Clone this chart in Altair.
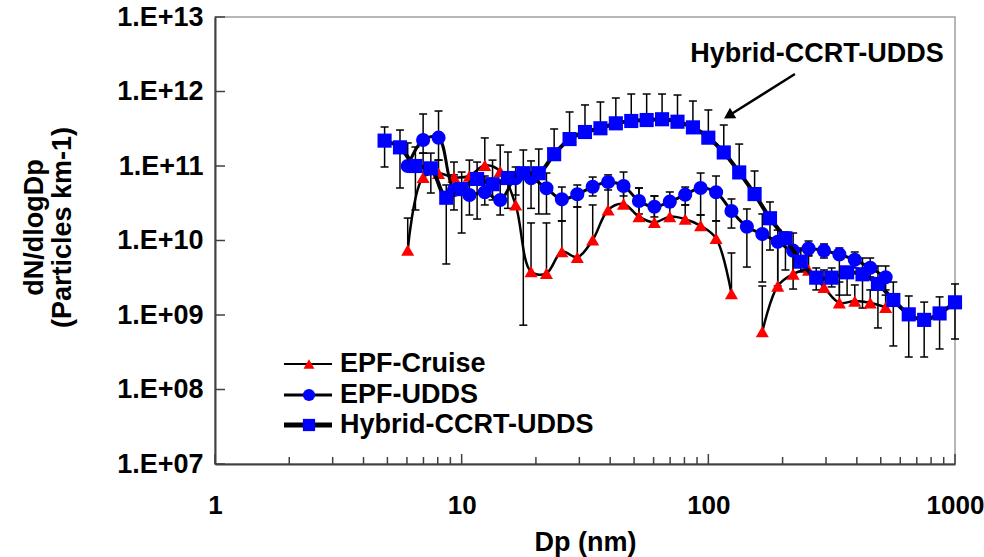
import altair as alt
import pandas as pd

# ---------------- data ----------------
hyb_dp = [4.870, 5.623, 6.494, 7.499, 8.660, 10.00, 11.55, 13.34, 15.40, 17.78,
          20.54, 23.71, 27.38, 31.62, 36.52, 42.17, 48.70, 56.23, 64.94, 74.99,
          86.60, 100.0, 115.5, 133.4, 154.0, 177.8, 205.4, 237.1, 273.8, 316.2,
          365.2, 421.7, 487.0, 562.3, 649.4, 749.9, 866.0, 1000.0]
hyb_val = [2.19e11, 1.78e11, 1.0e11, 9.3e10, 3.75e10, 4.9e10, 6.7e10, 5.7e10, 6.9e10, 8.0e10,
           8.0e10, 1.44e11, 2.30e11, 2.86e11, 3.21e11, 3.74e11, 4.02e11, 4.14e11, 4.24e11, 3.93e11,
           3.30e11, 2.40e11, 1.52e11, 8.2e10, 4.2e10, 1.99e10, 1.07e10, 5.2e9, 3.17e9, 3.17e9,
           3.74e9, 3.52e9, 2.61e9, 1.59e9, 1.02e9, 8.6e8, 1.05e9, 1.48e9]
hyb_hi = [3.34e11, 3.04e11, 1.80e11, 1.49e11, 5.56e10, 8.3e10, 1.13e11, 1.2e11, 1.54e11, 1.64e11,
          1.69e11, 3.14e11, 5.31e11, 6.6e11, 7.23e11, 8.18e11, 9.25e11, 9.25e11, 9.25e11, 8.97e11,
          7.45e11, 5.65e11, 3.55e11, 1.97e11, 8.57e10, 3.29e10, 1.30e10, 7.93e9, 4.28e9, 4.28e9,
          4.41e9, 5.82e9, 4.55e9, 2.77e9, 1.80e9, 1.49e9, 1.75e9, 2.61e9]
hyb_lo = [9.7e10, 5.07e10, 2.57e10, 4.34e10, 4.84e9, 1.26e10, 1.94e10, 3.5e10, 2.7e10, 7.3e8,
          2.27e10, None, None, None, None, None, None, None, None, None,
          None, None, None, None, None, 7.45e9, 4.02e9, 3.78e9, 2.17e9, 2.38e9,
          1.85e9, 1.24e9, 6.7e8, 3.84e8, 2.73e8, 2.73e8, 3.5e8, 4.76e8]

epf_dp = [6.043, 6.978, 8.058, 9.306, 10.75, 12.41, 14.33, 16.55, 19.11, 22.07,
          25.48, 29.43, 33.98, 39.24, 45.32, 52.33, 60.43, 69.78, 80.58, 93.06,
          107.5, 124.1, 143.3, 165.5, 191.1, 220.7, 254.8, 294.3, 339.8, 392.4,
          453.2, 523.3]

udds_val = [1.0e11, 2.23e11, 2.40e11, 4.76e10, 4.08e10, 4.44e10, 3.50e10, 6.84e10, 6.84e10, 5.02e10,
            3.57e10, 4.17e10, 5.27e10, 6.10e10, 5.39e10, 3.39e10, 2.84e10, 3.32e10, 4.12e10, 5.07e10,
            4.44e10, 2.49e10, 1.53e10, 1.22e10, 9.6e9, 7.3e9, 7.8e9, 7.3e9, 6.5e9, 5.5e9,
            4.3e9, 3.2e9]
udds_hi = [2.04e11, 4.99e11, 5.47e11, 7.6e10, 5.92e10, 7.34e10, 6.49e10, 9.7e10, 1.17e11, 8.05e10,
           5.22e10, 5.56e10, 7.11e10, 7.6e10, 8.3e10, 5.07e10, 3.96e10, 4.48e10, 5.22e10, 8.05e10,
           7.34e10, 3.61e10, 2.65e10, 2.27e10, 1.38e10, 1.26e10, 9.84e9, 8.98e9, 7.93e9, 7.01e9,
           5.82e9, 4.55e9]
udds_lo = [None, 1.49e11, 1.2e11, 2.57e10, 2.2e10, 3.0e10, 2.2e10, 4.08e10, 2.7e10, 2.27e10,
           1.83e10, 2.82e10, 3.96e10, 4.76e10, 3.96e10, 2.27e10, 2.07e10, 2.82e10, 3.0e10, 2.2e10,
           1.83e10, 1.47e10, 4.4e9, 2.77e9, 2.45e9, 2.23e9, 6.19e9, 5.82e9, 1.85e9, 4.28e9,
           3.24e9, 2.17e9]

cruise_val = [7.45e9, 7.05e10, 7.98e10, 7.05e10, 7.34e10, 1.02e11, 8.49e10, 3.0e10, 3.81e9, 3.63e9,
              7.08e9, 5.95e9, 1.02e10, 2.57e10, 3.09e10, 2.09e10, 1.75e10, 2.09e10, 1.93e10, 1.58e10,
              1.07e10, 1.94e9, None, 5.97e8, 2.45e9, 3.55e9, 4.02e9, 2.35e9, 1.46e9, 1.54e9,
              1.46e9, 1.27e9]
cruise_hi = [2.0e10, 1.49e11, 1.2e11, 1.13e11, 1.2e11, 2.38e11, 1.91e11, 6.49e10, 1.72e10, 1.72e10,
             1.83e10, 2.82e10, 3.0e10, 5.56e10, 5.56e10, 5.07e10, 3.96e10, 3.5e10, 3.0e10, 2.2e10,
             1.83e10, 6.8e9, None, 2.45e9, 1.02e10, 6.38e9, 6.38e9, 4.02e9, 2.77e9, 2.53e9,
             2.17e9, 1.85e9]
cruise_lo = [None] * len(cruise_val)

series_names = ["EPF-Cruise", "EPF-UDDS", "Hybrid-CCRT-UDDS"]
series_colors = ["#ff0000", "#0000ff", "#0000ff"]
series_shapes = ["triangle-up", "circle", "square"]
line_widths = [2.5, 3, 4]
marker_sizes = [170, 200, 200]
legend_marker_sizes = [120, 150, 150]
legend_line_widths = [2, 3, 5]

x_major = [1, 10, 100, 1000]
x_minor = [2, 3, 4, 5, 6, 7, 8, 9, 20, 30, 40, 50, 60, 70, 80, 90,
           200, 300, 400, 500, 600, 700, 800, 900]
y_major = [1e7, 1e8, 1e9, 1e10, 1e11, 1e12, 1e13]

annot_text = ["Hybrid-CCRT-UDDS"]
annot_dp = [275.5]
annot_val = [2.49e12]
arrow_dp = [224.4]
arrow_val = [1.72e12]
arrow_dp2 = [120.8]
arrow_val2 = [4.72e11]

# ---------------- tables ----------------
raw = [
    (series_names[0], epf_dp, cruise_val, cruise_hi, cruise_lo),
    (series_names[1], epf_dp, udds_val, udds_hi, udds_lo),
    (series_names[2], hyb_dp, hyb_val, hyb_hi, hyb_lo),
]
rows, caps = [], []
for name, dps, vals, his, los in raw:
    seg = 0
    for d, v, h, l in zip(dps, vals, his, los):
        if v is None:
            seg += 1
            continue
        rows.append(dict(series=name, Dp=d, val=v, seg=seg,
                         hi=h if h is not None else v,
                         lo=l if l is not None else v))
        if h is not None:
            caps.append(dict(Dp=d, cy=h))
        if l is not None:
            caps.append(dict(Dp=d, cy=l))
df = pd.DataFrame(rows)
capdf = pd.DataFrame(caps)

FONT = "Liberation Sans"
FS = 27
xs = alt.Scale(type="log", domain=[1, 1000])
ys = alt.Scale(type="log", domain=[1e7, 1e13])
xaxis = alt.Axis(values=x_major, format="d", title="Dp (nm)", labelFlush=False,
                 labelFontSize=26,
                 ticks=False, tickSize=0, labelPadding=28, grid=False,
                 titleBaseline="alphabetic", titleY=86,
                 domainColor="#404040", domainWidth=2)
yaxis = alt.Axis(values=y_major, title=["dN/dlogDp", "(Particles km-1)"],
                 labelExpr="'1.E+' + (round(log(datum.value)/LN10) < 10 ? '0' : '') + round(log(datum.value)/LN10)",
                 labelFlush=False, ticks=False, tickSize=0, labelPadding=12, grid=False,
                 titleAngle=270, titleX=-181, titleY=210, titleAlign="center",
                 titleBaseline="middle", titleLineHeight=28,
                 domainColor="#404040", domainWidth=2)


def X(f):
    return alt.X(f"{f}:Q", scale=xs, axis=xaxis)


def Y(f):
    return alt.Y(f"{f}:Q", scale=ys, axis=yaxis)


layers = []
# inward ticks
layers.append(alt.Chart(pd.DataFrame({"Dp": x_minor})).mark_rule(color="#404040", strokeWidth=1.5)
              .encode(x=X("Dp"), y=alt.value(447), y2=alt.value(440)))
layers.append(alt.Chart(pd.DataFrame({"Dp": x_major})).mark_rule(color="#404040", strokeWidth=1.5)
              .encode(x=X("Dp"), y=alt.value(447), y2=alt.value(437)))
layers.append(alt.Chart(pd.DataFrame({"val": y_major})).mark_rule(color="#404040", strokeWidth=1.5)
              .encode(y=Y("val"), x=alt.value(0), x2=alt.value(10)))

# error bars
layers.append(alt.Chart(df).mark_rule(color="black", strokeWidth=1.5)
              .encode(x=X("Dp"), y=Y("lo"), y2="hi:Q"))
layers.append(alt.Chart(capdf).mark_rule(color="black", strokeWidth=1.5, xOffset=-4, x2Offset=4)
              .encode(x=X("Dp"), x2="Dp:Q", y=Y("cy")))

# series lines and markers
for i, name in enumerate(series_names):
    sub = df[df.series == name]
    layers.append(alt.Chart(sub).mark_line(color="black", strokeWidth=line_widths[i],
                                           interpolate="catmull-rom")
                  .encode(x=X("Dp"), y=Y("val"), detail="seg:N"))
    layers.append(alt.Chart(sub).mark_point(filled=True, opacity=1, shape=series_shapes[i],
                                            size=marker_sizes[i], color=series_colors[i])
                  .encode(x=X("Dp"), y=Y("val")))

# annotation
ann = pd.DataFrame({"Dp": annot_dp, "val": annot_val, "label": annot_text})
arr = pd.DataFrame({"Dp": arrow_dp, "val": arrow_val, "Dp2": arrow_dp2, "val2": arrow_val2})
layers.append(alt.Chart(ann).mark_text(font=FONT, fontSize=FS, fontWeight="bold", color="black",
                                       align="center", baseline="alphabetic")
              .encode(x=X("Dp"), y=Y("val"), text="label:N"))
layers.append(alt.Chart(arr).mark_rule(color="black", strokeWidth=2.5)
              .encode(x=X("Dp"), y=Y("val"), x2="Dp2:Q", y2="val2:Q"))
layers.append(alt.Chart(arr).mark_point(shape="triangle-up", filled=True, opacity=1, size=150,
                                        angle=239, color="black")
              .encode(x=X("Dp2"), y=Y("val2")))

# legend (drawn inside the plot, bottom left)
legend_y = [347, 378, 408]
one = pd.DataFrame({"k": [0]})
for i, name in enumerate(series_names):
    ry = legend_y[i]
    layers.append(alt.Chart(one).mark_rule(color="black", strokeWidth=legend_line_widths[i])
                  .encode(x=alt.value(69), x2=alt.value(117), y=alt.value(ry)))
    layers.append(alt.Chart(one).mark_point(filled=True, opacity=1, shape=series_shapes[i],
                                            size=legend_marker_sizes[i], color=series_colors[i])
                  .encode(x=alt.value(94), y=alt.value(ry)))
    layers.append(alt.Chart(one).mark_text(text=name, font=FONT, fontSize=FS, fontWeight="bold",
                                           color="black", align="left", baseline="middle")
                  .encode(x=alt.value(125), y=alt.value(ry)))

chart = (alt.layer(*layers)
         .properties(width=740, height=447,
                     autosize=alt.AutoSizeParams(type="none"),
                     padding={"left": 215, "top": 17, "right": 29, "bottom": 93})
         .configure_view(stroke="#a0a0a0", strokeWidth=1.5)
         .configure_axis(labelFont=FONT, titleFont=FONT, labelFontSize=FS, titleFontSize=FS,
                         labelFontWeight="bold", titleFontWeight="bold",
                         labelColor="black", titleColor="black"))

chart.save("out.html", embed_options={"renderer": "svg", "actions": False})
